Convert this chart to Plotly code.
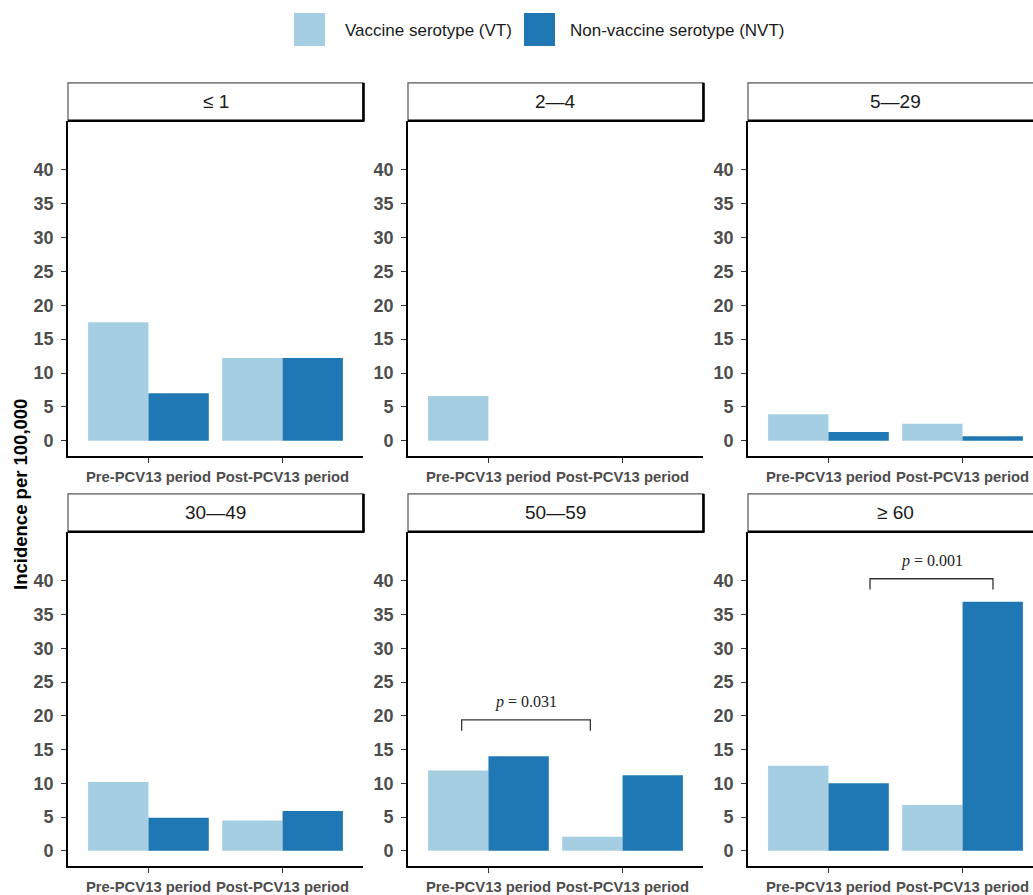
import plotly.graph_objects as go

# ---- data -------------------------------------------------------------
periods = ["Pre-PCV13 period", "Post-PCV13 period"]
age_groups = ["≤ 1", "2—4", "5—29", "30—49", "50—59", "≥ 60"]
vt_incidence = [
    [17.5, 12.2],
    [6.6, 0.0],
    [3.9, 2.5],
    [10.2, 4.5],
    [11.9, 2.1],
    [12.6, 6.8],
]
nvt_incidence = [
    [7.0, 12.2],
    [0.0, 0.0],
    [1.3, 0.65],
    [4.9, 5.9],
    [14.0, 11.2],
    [10.0, 36.9],
]
series_names = ["Vaccine serotype (VT)", "Non-vaccine serotype (NVT)"]
y_ticks = [0, 5, 10, 15, 20, 25, 30, 35, 40]
# significance brackets: (panel index, x start, x end, bracket top, leg bottom, label)
p_brackets = [
    (4, -0.2, 0.76, 19.4, 17.8, "0.031"),
    (5, 0.31, 1.227, 40.3, 38.7, "0.001"),
]

# ---- styling ----------------------------------------------------------
W, H = 1033, 895
VT_COLOR = "#A6CEE3"
NVT_COLOR = "#1F78B4"
SANS = "Liberation Sans, Arial, sans-serif"
SERIF = "Liberation Serif, Times New Roman, serif"
TICK_COLOR = "#4D4D4D"


def px(x):
    return x / W


def py(y):
    return 1 - y / H


# panel boxes in pixels: (left, right) per column, (top, bottom) per row
col_px = [(68, 363), (408, 703), (748, 1043)]
row_px = [(121, 457), (533, 868)]
strip_h = 38
px_per_unit = (col_px[0][1] - col_px[0][0]) / 2.2

fig = go.Figure()
layout_axes = {}
shapes = []
annotations = []

for i, grp in enumerate(age_groups):
    r, c = divmod(i, 3)
    xl, xr = col_px[c]
    yt, yb = row_px[r]
    xr_vis = min(xr, W)
    sfx = "" if i == 0 else str(i + 1)
    xa, ya = "x" + sfx, "y" + sfx

    fig.add_trace(go.Bar(
        x=periods, y=vt_incidence[i], name=series_names[0],
        marker=dict(color=VT_COLOR, line=dict(width=0)),
        xaxis=xa, yaxis=ya, showlegend=False, offsetgroup="vt",
    ))
    fig.add_trace(go.Bar(
        x=periods, y=nvt_incidence[i], name=series_names[1],
        marker=dict(color=NVT_COLOR, line=dict(width=0)),
        xaxis=xa, yaxis=ya, showlegend=False, offsetgroup="nvt",
    ))

    x_hi = -0.6 + (xr_vis - xl) / px_per_unit
    layout_axes["xaxis" + sfx] = dict(
        domain=[px(xl), px(xr_vis)], anchor=ya, type="category",
        range=[-0.6, x_hi], showgrid=False, zeroline=False,
        showline=True, linecolor="black", linewidth=1.6,
        ticks="outside", ticklen=5, tickwidth=1.3, tickcolor="#333333",
        tickfont=dict(family=SANS, size=14.8, color=TICK_COLOR, weight="bold"),
        ticklabelstandoff=1, fixedrange=True,
    )
    layout_axes["yaxis" + sfx] = dict(
        domain=[py(yb), py(yt)], anchor=xa,
        range=[-2.25, 47.25], tickvals=y_ticks, showgrid=False,
        zeroline=False, showline=True, linecolor="black", linewidth=1.6,
        ticks="outside", ticklen=5, tickwidth=1.3, tickcolor="#333333",
        tickfont=dict(family=SANS, size=18, color=TICK_COLOR, weight="bold"),
        ticklabelstandoff=4, fixedrange=True,
    )

    # facet strip
    s_top, s_bot = yt - strip_h, yt
    shapes.append(dict(type="rect", xref="paper", yref="paper",
                       x0=px(xl), x1=px(xr), y0=py(s_bot), y1=py(s_top),
                       fillcolor="white", line=dict(color="#555555", width=1.2),
                       layer="above"))
    shapes.append(dict(type="line", xref="paper", yref="paper",
                       x0=px(xl), x1=px(xr + 1.5), y0=py(s_bot), y1=py(s_bot),
                       line=dict(color="black", width=2.6), layer="above"))
    shapes.append(dict(type="line", xref="paper", yref="paper",
                       x0=px(xr + 0.5), x1=px(xr + 0.5), y0=py(s_bot), y1=py(s_top),
                       line=dict(color="black", width=2.6), layer="above"))
    annotations.append(dict(text=grp, xref="paper", yref="paper",
                            x=px((xl + xr) / 2), y=py((s_top + s_bot) / 2),
                            xanchor="center", yanchor="middle", showarrow=False,
                            font=dict(family=SANS, size=19, color="#1A1A1A")))

# significance brackets and p-values
for idx, x0, x1, ytop, ybot, pval in p_brackets:
    sfx = "" if idx == 0 else str(idx + 1)
    xa, ya = "x" + sfx, "y" + sfx
    shapes.append(dict(type="path", xref=xa, yref=ya,
                       path=f"M {x0},{ybot} L {x0},{ytop} L {x1},{ytop} L {x1},{ybot}",
                       line=dict(color="#333333", width=1.3)))
    annotations.append(dict(text=f"<i>p</i> = {pval}", xref=xa, yref=ya,
                            x=(x0 + x1) / 2, y=ytop + 2.7,
                            xanchor="center", yanchor="middle", showarrow=False,
                            font=dict(family=SERIF, size=16, color="#222222")))

# legend drawn as swatches + labels
legend_items = [(294, 325, 343, VT_COLOR, series_names[0]),
                (524, 555, 568, NVT_COLOR, series_names[1])]
for x0, x1, tx, col, label in legend_items:
    shapes.append(dict(type="rect", xref="paper", yref="paper",
                       x0=px(x0), x1=px(x1), y0=py(46), y1=py(13),
                       fillcolor=col, line=dict(width=0)))
    annotations.append(dict(text=label, xref="paper", yref="paper",
                            x=px(tx), y=py(31), xanchor="left", yanchor="middle",
                            showarrow=False,
                            font=dict(family=SANS, size=17, color="#1A1A1A")))

# shared y-axis title
annotations.append(dict(text="Incidence per 100,000", xref="paper", yref="paper",
                        x=px(21), y=py(496), textangle=-90,
                        xanchor="center", yanchor="middle", showarrow=False,
                        font=dict(family=SANS, size=18.5, color="black", weight="bold")))

fig.update_layout(
    width=W, height=H,
    margin=dict(l=0, r=0, t=0, b=0),
    paper_bgcolor="white", plot_bgcolor="white",
    barmode="group", bargap=0.1, bargroupgap=0,
    showlegend=False,
    shapes=shapes, annotations=annotations,
    **layout_axes,
)

fig.write_html("out.html")
